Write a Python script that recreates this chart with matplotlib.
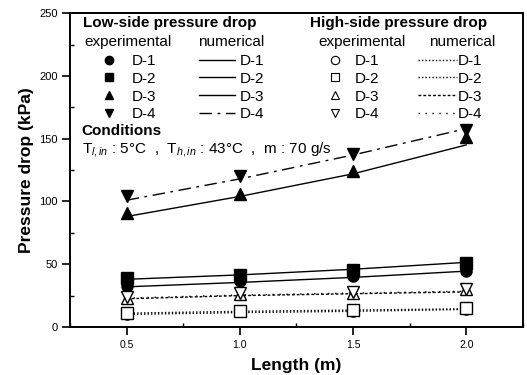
import matplotlib
matplotlib.use("Agg")
import matplotlib.pyplot as plt
from matplotlib.lines import Line2D
from matplotlib.ticker import MultipleLocator

plt.rcParams['font.family'] = ['Liberation Sans', 'DejaVu Sans']
plt.rcParams['mathtext.fontset'] = 'custom'
plt.rcParams['mathtext.rm'] = 'Liberation Sans'
plt.rcParams['mathtext.it'] = 'Liberation Sans:italic'

length = [0.5, 1.0, 1.5, 2.0]
labels = ["D-1", "D-2", "D-3", "D-4"]

# experimental, low side
low_exp = {
    "D-1": [33, 37, 40.5, 45],
    "D-2": [39, 41.5, 45.5, 51],
    "D-3": [91, 106, 124, 151],
    "D-4": [104, 120, 138, 157],
}
# numerical, low side
low_num = {
    "D-1": [32, 35.5, 39.5, 44.5],
    "D-2": [38, 41.5, 46, 51.5],
    "D-3": [88, 104, 122, 145],
    "D-4": [101, 118, 137, 158],
}
# experimental, high side
high_exp = {
    "D-1": [10, 12.5, 13, 14.5],
    "D-2": [11, 13, 13.5, 15],
    "D-3": [23, 26, 27, 30],
    "D-4": [24, 27, 27.5, 30],
}
# numerical, high side
high_num = {
    "D-1": [10, 11.5, 12.5, 14],
    "D-2": [11, 12.5, 13.5, 14.5],
    "D-3": [22.5, 25, 26.5, 28],
    "D-4": [23, 25.5, 27, 28.5],
}

markers = {"D-1": "o", "D-2": "s", "D-3": "^", "D-4": "v"}
low_styles = {"D-1": "-", "D-2": "-", "D-3": "-", "D-4": (0, (9, 4, 2, 4))}
high_styles = {"D-1": (0, (1, 1.5)), "D-2": (0, (1, 1.5)), "D-3": (0, (2, 1.5)), "D-4": (0, (1, 4))}

fig = plt.figure(figsize=(5.27, 3.75), dpi=100)
ax = fig.add_axes([0.133, 0.128, 0.859, 0.837])

for k in labels:
    ax.plot(length, low_num[k], color='black', lw=1.0, linestyle=low_styles[k])
    ax.plot(length, high_num[k], color='black', lw=1.0, linestyle=high_styles[k])
for k in labels:
    ax.plot(length, low_exp[k], linestyle='none', marker=markers[k], ms=8,
            color='black')
    ax.plot(length, high_exp[k], linestyle='none', marker=markers[k], ms=8,
            markerfacecolor='white', markeredgecolor='black', mew=1.0)

ax.set_xlim(0.25, 2.25)
ax.set_ylim(0, 250)
ax.xaxis.set_major_locator(MultipleLocator(0.5))
ax.xaxis.set_minor_locator(MultipleLocator(0.25))
ax.yaxis.set_major_locator(MultipleLocator(50))
ax.yaxis.set_minor_locator(MultipleLocator(25))
ax.tick_params(which='major', direction='out', length=5.5, width=1.2)
ax.tick_params(which='minor', direction='in', length=3, width=1.0)
ax.tick_params(axis='x', labelsize=7.5)
ax.tick_params(axis='y', labelsize=8)
for s in ax.spines.values():
    s.set_linewidth(1.4)

ax.set_xlabel("Length (m)", fontsize=12.5, fontweight='bold', labelpad=6)
ax.set_ylabel("Pressure drop (kPa)", fontsize=12.5, fontweight='bold', labelpad=4)

# legend texts
fs = 11
ax.text(0.0285, 0.968, "Low-side pressure drop", transform=ax.transAxes,
        fontsize=fs, fontweight='bold', va='center')
ax.text(0.031, 0.908, "experimental", transform=ax.transAxes, fontsize=fs, va='center')
ax.text(0.282, 0.908, "numerical", transform=ax.transAxes, fontsize=fs, va='center')
ax.text(0.530, 0.968, "High-side pressure drop", transform=ax.transAxes,
        fontsize=fs, fontweight='bold', va='center')
ax.text(0.548, 0.908, "experimental", transform=ax.transAxes, fontsize=fs, va='center')
ax.text(0.793, 0.908, "numerical", transform=ax.transAxes, fontsize=fs, va='center')

ax.text(0.026, 0.624, "Conditions", transform=ax.transAxes,
        fontsize=fs, fontweight='bold', va='center')
ax.text(0.026, 0.565,
        r"T$_{\mathit{l,in}}$ : 5°C  ,  T$_{\mathit{h,in}}$ : 43°C  ,  m : 70 g/s",
        transform=ax.transAxes, fontsize=fs, va='center')

low_handles = [Line2D([], [], linestyle='none', marker=markers[k], ms=6, color='black')
               for k in labels]
low_handles += [Line2D([], [], color='black', lw=1.0, linestyle=low_styles[k]) for k in labels]
high_handles = [Line2D([], [], linestyle='none', marker=markers[k], ms=6,
                       markerfacecolor='white', markeredgecolor='black', mew=0.8)
                for k in labels]
high_handles += [Line2D([], [], color='black', lw=1.0, linestyle=high_styles[k]) for k in labels]

leg1 = ax.legend(low_handles, labels + labels, ncol=2, frameon=False,
                 loc='upper left', bbox_to_anchor=(0.045, 0.870), fontsize=fs,
                 handlelength=2.4, handletextpad=0.3, columnspacing=2.77,
                 labelspacing=0.25, borderaxespad=0, borderpad=0)
ax.add_artist(leg1)
leg2 = ax.legend(high_handles, labels + labels, ncol=2, frameon=False,
                 loc='upper left', bbox_to_anchor=(0.543, 0.870), fontsize=fs,
                 handlelength=2.5, handletextpad=0.05, columnspacing=2.55,
                 labelspacing=0.25, borderaxespad=0, borderpad=0)

fig.patch.set_facecolor('white')
plt.savefig("out.png", dpi=100)
plt.close()
